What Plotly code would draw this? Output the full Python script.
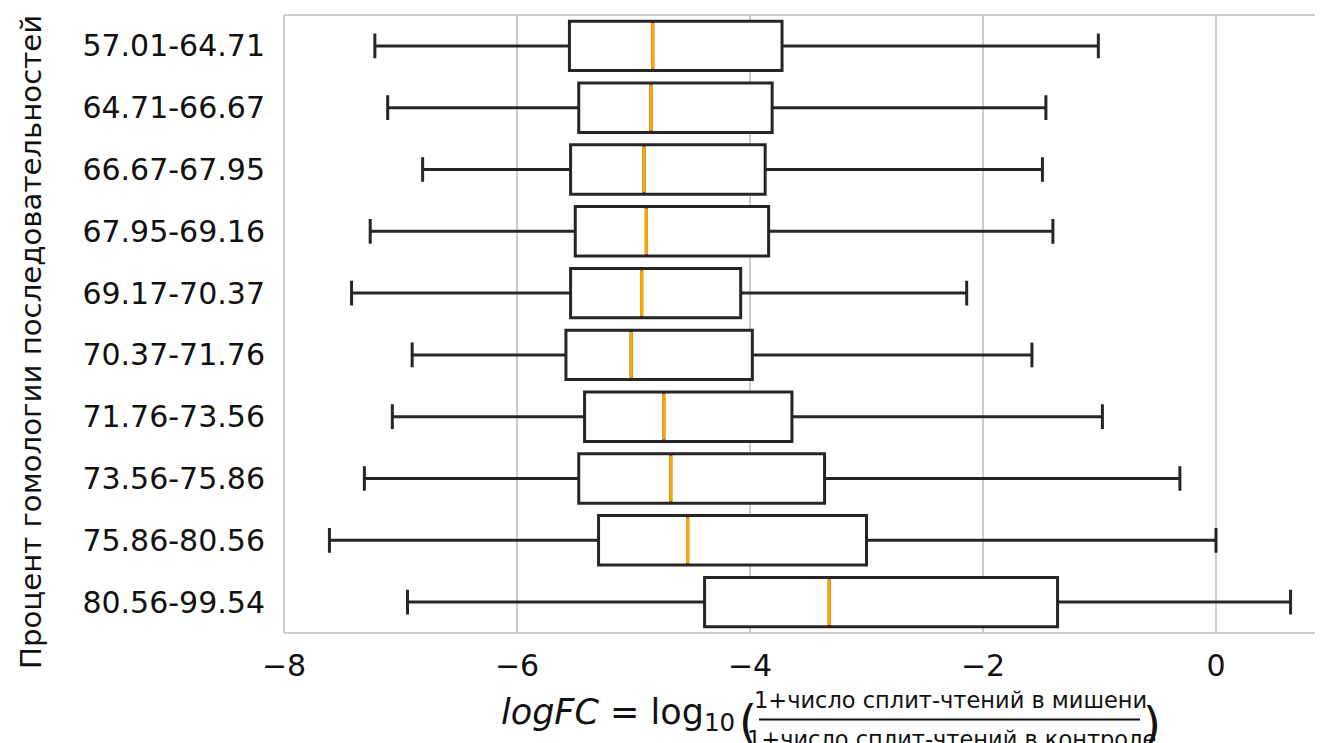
import plotly.graph_objects as go

# ---- data ----
categories = ["57.01-64.71", "64.71-66.67", "66.67-67.95", "67.95-69.16", "69.17-70.37",
              "70.37-71.76", "71.76-73.56", "73.56-75.86", "75.86-80.56", "80.56-99.54"]
lower_whisker = [-7.22, -7.11, -6.81, -7.26, -7.42, -6.90, -7.07, -7.31, -7.61, -6.94]
q1_values = [-5.55, -5.47, -5.54, -5.50, -5.54, -5.58, -5.42, -5.47, -5.30, -4.39]
median_values = [-4.835, -4.85, -4.91, -4.89, -4.93, -5.02, -4.74, -4.68, -4.535, -3.32]
q3_values = [-3.725, -3.81, -3.87, -3.84, -4.08, -3.98, -3.64, -3.36, -3.00, -1.36]
upper_whisker = [-1.01, -1.46, -1.49, -1.40, -2.14, -1.58, -0.975, -0.31, 0.00, 0.64]
x_tick_values = [-8, -6, -4, -2, 0]
x_tick_labels = ["\u22128", "\u22126", "\u22124", "\u22122", "0"]

y_title = "Процент гомологии последовательностей"
numerator_text = "1+число сплит-чтений в мишени"
denominator_text = "1+число сплит-чтений в контроле"

# ---- layout constants ----
OFF = 8  # page body margin
W, H = 1323 - OFF, 743 - OFF
L, R, T, B = 284 - OFF, 0, 15 - OFF, 110
PW, PH = W - L - R, H - T - B
BOX_W = 0.8
DARK = "#262626"
TXT = "#111111"
GRID = "#cccccc"
FONT = "DejaVu Sans"

positions = list(range(len(categories)))

def px_x(px):
    return (px - OFF - L) / PW

def px_y(py):
    return (H - B - (py - OFF)) / PH

fig = go.Figure()
fig.add_trace(go.Box(
    orientation="h",
    y=positions,
    q1=q1_values, median=median_values, q3=q3_values,
    lowerfence=lower_whisker, upperfence=upper_whisker,
    width=BOX_W, whiskerwidth=0.5,
    fillcolor="white",
    line=dict(color=DARK, width=3),
    boxpoints=False, showlegend=False, hoverinfo="skip",
))

mx, my = [], []
for p, m in zip(positions, median_values):
    mx += [m, m, None]
    my += [p - BOX_W / 2 + 0.03, p + BOX_W / 2 - 0.03, None]
fig.add_trace(go.Scatter(x=mx, y=my, mode="lines",
                         line=dict(color="orange", width=3.2),
                         showlegend=False, hoverinfo="skip"))

x_max = -8 + PW / 116.5

fig.update_layout(
    width=W, height=H,
    margin=dict(l=L, r=R, t=T, b=B, pad=0),
    paper_bgcolor="white", plot_bgcolor="white",
    font=dict(family=FONT, color=DARK),
    xaxis=dict(range=[-8, x_max], tickvals=x_tick_values, ticktext=x_tick_labels,
               showgrid=True, gridcolor=GRID, gridwidth=2, zeroline=False,
               showline=False, ticks="", ticklabelstandoff=12,
               tickfont=dict(size=30, family=FONT, color=TXT)),
    yaxis=dict(range=[9.5, -0.5], tickvals=positions, ticktext=categories,
               showgrid=False, zeroline=False, showline=False, ticks="",
               ticklabelstandoff=18,
               tickfont=dict(size=30, family=FONT, color=TXT)),
)

# spines (left, top, bottom)
for x0, y0, x1, y1 in [(0, 0, 0, 1), (0, 1, 1, 1), (0, 0, 1, 0)]:
    fig.add_shape(type="line", xref="paper", yref="paper", x0=x0, y0=y0, x1=x1, y1=y1,
                  line=dict(color=GRID, width=2), layer="below")

# y-axis title
fig.add_annotation(text=y_title, xref="paper", yref="paper", x=px_x(31), y=px_y(342),
                   textangle=-90, showarrow=False, xanchor="center", yanchor="middle",
                   font=dict(size=29.2, family=FONT, color=TXT))

# x-axis title built from pieces (mathtext-like)
fig.add_annotation(text="<i>logFC</i> = log<sub>10</sub>", xref="paper", yref="paper",
                   x=px_x(499), y=px_y(714), showarrow=False, xanchor="left", yanchor="middle",
                   font=dict(size=35, family=FONT, color=TXT))
fig.add_annotation(text="(", xref="paper", yref="paper",
                   x=px_x(737), y=px_y(722), showarrow=False, xanchor="left", yanchor="middle",
                   font=dict(size=46, family=FONT, color=TXT))
fig.add_annotation(text=numerator_text, xref="paper", yref="paper",
                   x=px_x(950), y=px_y(700), showarrow=False, xanchor="center", yanchor="middle",
                   font=dict(size=22.5, family=FONT, color=TXT))
fig.add_annotation(text=denominator_text, xref="paper", yref="paper",
                   x=px_x(951), y=px_y(739), showarrow=False, xanchor="center", yanchor="middle",
                   font=dict(size=22.5, family=FONT, color=TXT))
fig.add_shape(type="line", xref="paper", yref="paper",
              x0=px_x(759), x1=px_x(1140), y0=px_y(719.5), y1=px_y(719.5),
              line=dict(color=TXT, width=2))
fig.add_annotation(text=")", xref="paper", yref="paper",
                   x=px_x(1141), y=px_y(724), showarrow=False, xanchor="left", yanchor="middle",
                   font=dict(size=46, family=FONT, color=TXT))

fig.write_html("out.html")
